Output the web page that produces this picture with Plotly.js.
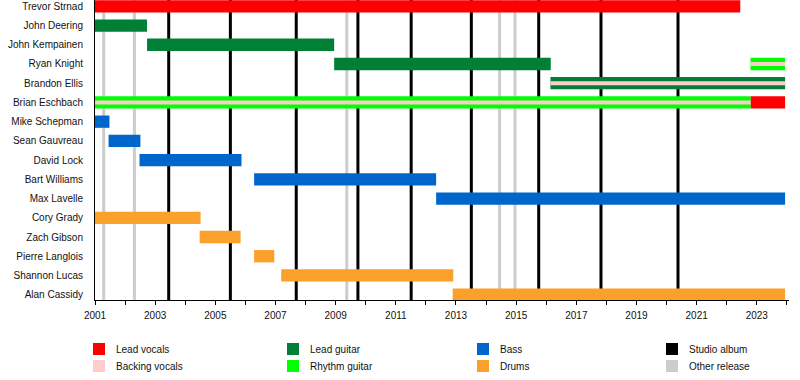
<!DOCTYPE html>
<html>
<head>
<meta charset="utf-8">
<script src="https://cdn.plot.ly/plotly-3.0.1.min.js"></script>
<style>
  html, body { margin: 0; padding: 0; background: #fff; }
  #chart { width: 800px; height: 380px; }
</style>
</head>
<body>
<div id="chart"></div>
<script>
// ---- Data (years as decimals) ----
const members = ['Trevor Strnad', 'John Deering', 'John Kempainen', 'Ryan Knight', 'Brandon Ellis',
  'Brian Eschbach', 'Mike Schepman', 'Sean Gauvreau', 'David Lock', 'Bart Williams', 'Max Lavelle',
  'Cory Grady', 'Zach Gibson', 'Pierre Langlois', 'Shannon Lucas', 'Alan Cassidy'];

const leadVocalsWho = ['Trevor Strnad', 'Brian Eschbach'];
const leadVocalsStart = [2001.0, 2022.79];
const leadVocalsEnd = [2022.45, 2023.94];

const leadGuitarWho = ['John Deering', 'John Kempainen', 'Ryan Knight', 'Brandon Ellis'];
const leadGuitarStart = [2001.0, 2002.73, 2008.95, 2016.14];
const leadGuitarEnd = [2002.73, 2008.95, 2016.15, 2023.94];

const rhythmGuitarWho = ['Brian Eschbach', 'Ryan Knight'];
const rhythmGuitarStart = [2001.0, 2022.79];
const rhythmGuitarEnd = [2022.79, 2023.94];

const backingVocalsWho = ['Brandon Ellis', 'Brian Eschbach', 'Ryan Knight'];
const backingVocalsStart = [2016.14, 2001.0, 2022.79];
const backingVocalsEnd = [2023.94, 2022.79, 2023.94];

const bassWho = ['Mike Schepman', 'Sean Gauvreau', 'David Lock', 'Bart Williams', 'Max Lavelle'];
const bassStart = [2001.0, 2001.45, 2002.48, 2006.29, 2012.34];
const bassEnd = [2001.48, 2002.51, 2005.87, 2012.34, 2023.94];

const drumsWho = ['Cory Grady', 'Zach Gibson', 'Pierre Langlois', 'Shannon Lucas', 'Alan Cassidy'];
const drumsStart = [2001.0, 2004.48, 2006.29, 2007.19, 2012.89];
const drumsEnd = [2004.51, 2005.84, 2006.96, 2012.91, 2023.94];

const studioAlbums = [2003.45, 2005.50, 2007.69, 2009.74, 2011.51, 2013.51, 2015.75, 2017.82, 2020.38];
const otherReleases = [2001.29, 2002.31, 2009.37, 2014.45, 2014.96];

const xTickYears = [2001, 2003, 2005, 2007, 2009, 2011, 2013, 2015, 2017, 2019, 2021, 2023];
const xTickLabels = ['2001', '2003', '2005', '2007', '2009', '2011', '2013', '2015', '2017', '2019', '2021', '2023'];

const legendLabels = ['Lead vocals', 'Lead guitar', 'Bass', 'Studio album',
  'Backing vocals', 'Rhythm guitar', 'Drums', 'Other release'];

// ---- Styles ----
const COL = {
  leadVocals: '#ff0000', backingVocals: '#ffcccc', leadGuitar: '#007f37',
  rhythmGuitar: '#00ff00', bass: '#0066cc', drums: '#fba02a',
  studio: '#000000', other: '#cccccc'
};
const legendColors = [COL.leadVocals, COL.leadGuitar, COL.bass, COL.studio,
  COL.backingVocals, COL.rhythmGuitar, COL.drums, COL.other];

const FONT = 'Liberation Sans, Arial, Helvetica, sans-serif';
const BAR_W = 0.64, STRIP_W = 0.21;

function barTrace(who, start, end, color, width) {
  return {
    type: 'bar', orientation: 'h',
    y: who, base: start, x: end.map((e, i) => e - start[i]),
    width: who.map(() => width),
    marker: { color: color, line: { width: 0 } },
    showlegend: false, hoverinfo: 'skip'
  };
}

const traces = [
  barTrace(leadVocalsWho, leadVocalsStart, leadVocalsEnd, COL.leadVocals, BAR_W),
  barTrace(leadGuitarWho, leadGuitarStart, leadGuitarEnd, COL.leadGuitar, BAR_W),
  barTrace(rhythmGuitarWho, rhythmGuitarStart, rhythmGuitarEnd, COL.rhythmGuitar, BAR_W),
  barTrace(bassWho, bassStart, bassEnd, COL.bass, BAR_W),
  barTrace(drumsWho, drumsStart, drumsEnd, COL.drums, BAR_W),
  barTrace(backingVocalsWho, backingVocalsStart, backingVocalsEnd, COL.backingVocals, STRIP_W)
];

// ---- Geometry ----
const W = 800, H = 380;
const M = { l: 95, r: 11, t: 0, b: 80 };
const PW = W - M.l - M.r, PH = H - M.t - M.b;
const px2x = p => (p - M.l) / PW;
const px2y = p => (M.t + PH - p) / PH;

const shapes = [];
otherReleases.forEach(d => shapes.push({
  type: 'line', xref: 'x', yref: 'paper', x0: d, x1: d, y0: 0, y1: 1,
  line: { color: COL.other, width: 3 }, layer: 'below'
}));
studioAlbums.forEach(d => shapes.push({
  type: 'line', xref: 'x', yref: 'paper', x0: d, x1: d, y0: 0, y1: 1,
  line: { color: COL.studio, width: 3 }, layer: 'below'
}));

// manual legend
const annotations = [];
const colX = [93, 287, 477, 666];
const rowY = [343, 360];
legendLabels.forEach((lab, i) => {
  const c = i % 4, r = Math.floor(i / 4);
  const x0 = colX[c], y0 = rowY[r];
  shapes.push({
    type: 'rect', xref: 'paper', yref: 'paper',
    x0: px2x(x0), x1: px2x(x0 + 12), y0: px2y(y0), y1: px2y(y0 + 12),
    fillcolor: legendColors[i], line: { width: 0 }
  });
  annotations.push({
    xref: 'paper', yref: 'paper', x: px2x(x0 + 21), y: px2y(y0 + 6.5),
    xanchor: 'left', yanchor: 'middle', showarrow: false,
    text: lab, font: { family: FONT, size: 10, color: '#111' }
  });
});

const layout = {
  width: W, height: H,
  margin: M,
  paper_bgcolor: '#fff', plot_bgcolor: '#fff',
  barmode: 'overlay', showlegend: false,
  font: { family: FONT, size: 10, color: '#111' },
  xaxis: {
    range: [2001, 2024.07], fixedrange: true,
    showgrid: false, zeroline: false,
    showline: true, linecolor: '#000', linewidth: 1,
    tickmode: 'array', tickvals: xTickYears, ticktext: xTickLabels,
    ticks: 'outside', ticklen: 4, tickcolor: '#000', tickwidth: 1,
    ticklabelstandoff: 2,
    minor: { tick0: 2001, dtick: 1, ticks: 'outside', ticklen: 4, tickcolor: '#000', tickwidth: 1, showgrid: false },
    tickfont: { family: FONT, size: 10, color: '#111' }
  },
  yaxis: {
    type: 'category', categoryorder: 'array', categoryarray: members,
    range: [15.276, -0.328], fixedrange: true,
    showgrid: false, zeroline: false,
    showline: true, linecolor: '#000', linewidth: 1,
    ticks: '', ticklabelstandoff: 9,
    tickfont: { family: FONT, size: 10, color: '#111' }
  },
  shapes: shapes,
  annotations: annotations
};

Plotly.newPlot('chart', traces, layout, { displayModeBar: false, staticPlot: true });
</script>
</body>
</html>
